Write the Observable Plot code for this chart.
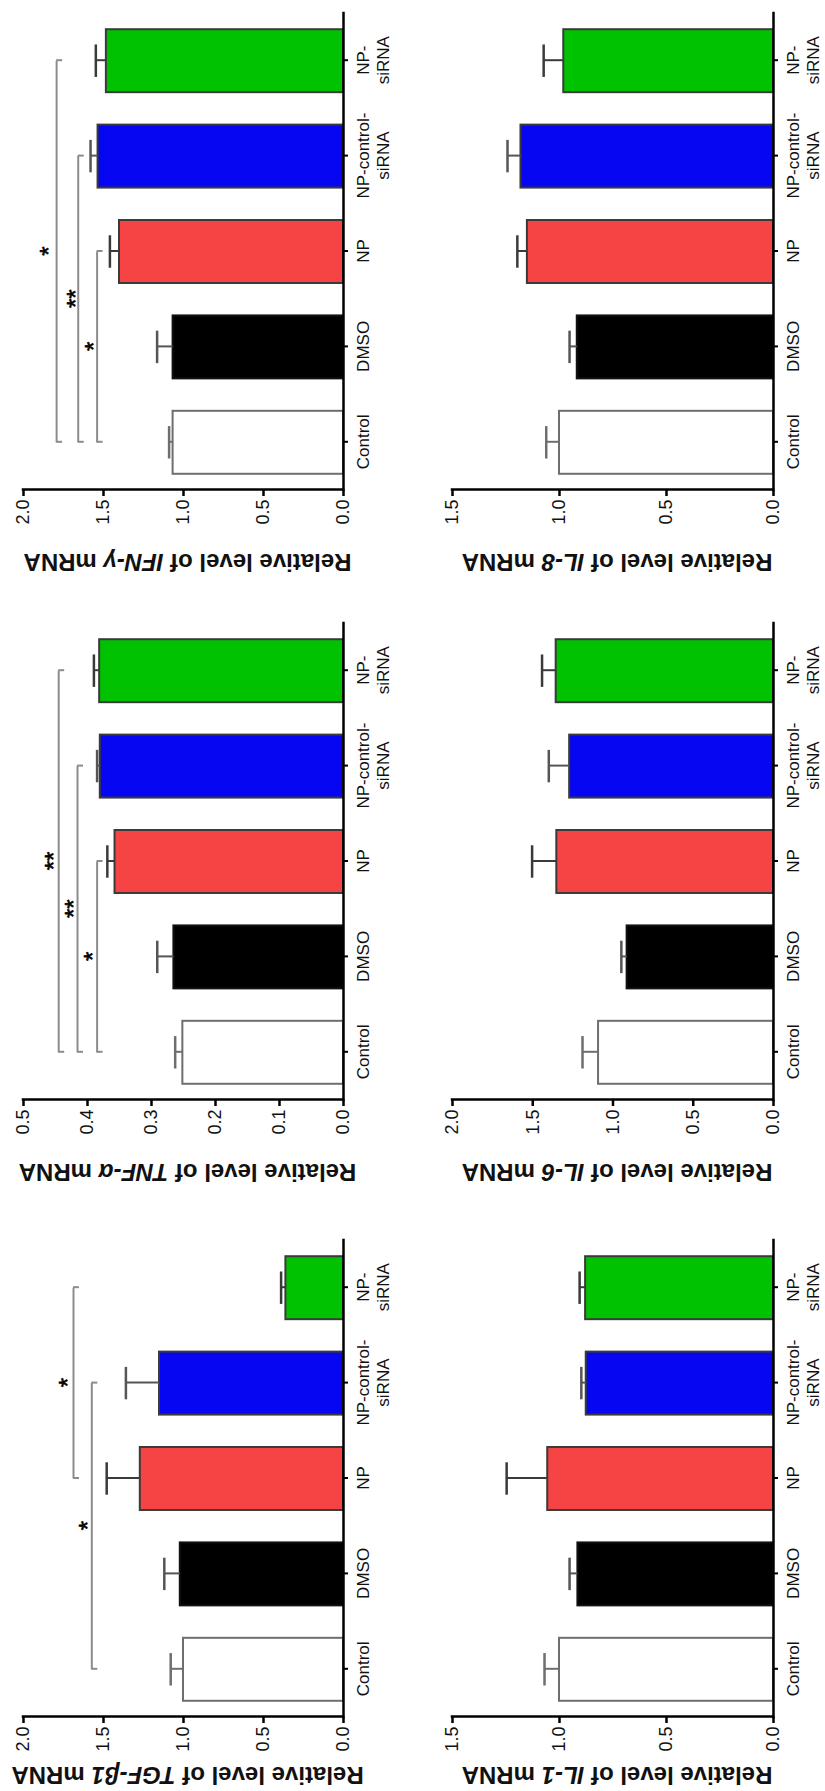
<!DOCTYPE html>
<html>
<head>
<meta charset="utf-8">
<script src="https://cdn.jsdelivr.net/npm/d3@7"></script>
<script src="https://cdn.jsdelivr.net/npm/@observablehq/plot@0.6"></script>
<style>
html, body { margin: 0; padding: 0; background: #fff; }
#page { position: relative; width: 825px; height: 1791px; overflow: hidden; background: #fff; }
#fig { position: absolute; left: 0; top: 0; width: 1791px; height: 825px;
       transform-origin: 0 0; transform: translate(0px, 1791px) rotate(-90deg); }
#fig svg { position: absolute; overflow: visible; }
</style>
</head>
<body>
<div id="page"><div id="fig"></div></div>
<script>
// ---------- data ----------
const categories = ["Control", "DMSO", "NP", "NP-control-siRNA", "NP-siRNA"];
const categoryLabels = ["Control", "DMSO", "NP", "NP-control-\nsiRNA", "NP-\nsiRNA"];
const barFills   = ["#ffffff", "#000000", "#f64444", "#0606f2", "#00c200"];
const barStrokes = ["#6e6e6e", "#111111", "#3a3a3a", "#3a3a3a", "#3a3a3a"];
const errStrokes = ["#6e6e6e", "#555555", "#3a3a3a", "#555555", "#3a3a3a"];

const tgfMean  = [1.00, 1.02, 1.27, 1.15, 0.36];
const tgfErr   = [0.08, 0.10, 0.21, 0.21, 0.03];
const tnfMean  = [0.251, 0.265, 0.357, 0.380, 0.381];
const tnfErr   = [0.012, 0.026, 0.012, 0.005, 0.009];
const ifnMean  = [1.065, 1.065, 1.40, 1.534, 1.482];
const ifnErr   = [0.025, 0.10, 0.06, 0.047, 0.066];
const il1Mean  = [1.00, 0.914, 1.055, 0.875, 0.878];
const il1Err   = [0.07, 0.039, 0.192, 0.023, 0.028];
const il6Mean  = [1.09, 0.912, 1.35, 1.27, 1.354];
const il6Err   = [0.10, 0.036, 0.154, 0.13, 0.088];
const il8Mean  = [1.00, 0.917, 1.15, 1.18, 0.98];
const il8Err   = [0.062, 0.036, 0.047, 0.063, 0.094];

const ticks20 = [0, 0.5, 1.0, 1.5, 2.0];
const ticks05 = [0, 0.1, 0.2, 0.3, 0.4, 0.5];
const ticks15 = [0, 0.5, 1.0, 1.5];

// significance brackets: from/to category index, bracket level, label, label level
const tgfBrackets = [
  {from: 0, to: 3, level: 1.573, label: "*",  labelLevel: 1.635},
  {from: 2, to: 4, level: 1.6875, label: "*", labelLevel: 1.76}
];
const tnfBrackets = [
  {from: 0, to: 2, level: 0.385,  label: "*",  labelLevel: 0.401},
  {from: 0, to: 3, level: 0.4156, label: "**", labelLevel: 0.430},
  {from: 0, to: 4, level: 0.445,  label: "**", labelLevel: 0.461}
];
const ifnBrackets = [
  {from: 0, to: 2, level: 1.54,  label: "*",  labelLevel: 1.596},
  {from: 0, to: 3, level: 1.658, label: "**", labelLevel: 1.71},
  {from: 0, to: 4, level: 1.793, label: "*",  labelLevel: 1.876}
];

const panels = [
  {gene: "TGF-β1", mean: tgfMean, err: tgfErr, max: 2.0, ticks: ticks20, brackets: tgfBrackets, col: 0, row: 0},
  {gene: "TNF-α",  mean: tnfMean, err: tnfErr, max: 0.5, ticks: ticks05, brackets: tnfBrackets, col: 1, row: 0},
  {gene: "IFN-γ",  mean: ifnMean, err: ifnErr, max: 2.0, ticks: ticks20, brackets: ifnBrackets, col: 2, row: 0},
  {gene: "IL-1",   mean: il1Mean, err: il1Err, max: 1.5, ticks: ticks15, brackets: [], col: 0, row: 1},
  {gene: "IL-6",   mean: il6Mean, err: il6Err, max: 2.0, ticks: ticks20, brackets: [], col: 1, row: 1},
  {gene: "IL-8",   mean: il8Mean, err: il8Err, max: 1.5, ticks: ticks15, brackets: [], col: 2, row: 1}
];

// ---------- layout (unrotated figure 1791 x 825, rotated by CSS) ----------
const colLeft = [0, 617, 1227];
const rowTop = [0, 429];
const rowHeight = [405, 394];
const marginLeft = 74, marginRight = 12, marginTop = 23;
const plotW = 477;
const plotH = [320, 321];
const titleDx = [[-68, -82, -82], [-68, -82, -82]];
const font = "'Liberation Sans', Arial, Helvetica, sans-serif";

const fig = document.getElementById("fig");

for (const p of panels) {
  const data = categories.map((c, i) => ({i, c, v: p.mean[i], e: p.err[i]}));
  const H = rowHeight[p.row];
  const ph = plotH[p.row];
  const endTick = 6 * p.max / ph; // bracket end-tick length (6 px) in data units
  const ends = p.brackets.flatMap(b => [{x: b.from, level: b.level}, {x: b.to, level: b.level}]);
  const title = `Relative level of ${p.gene} mRNA`;

  const svg = Plot.plot({
    width: marginLeft + plotW + marginRight,
    height: H,
    marginLeft, marginRight, marginTop,
    marginBottom: H - marginTop - ph,
    x: {domain: [-0.5, 4.5], axis: null},
    y: {domain: [0, p.max], axis: null},
    color: {type: "identity"},
    style: {fontFamily: font, background: "transparent", overflow: "visible", color: "#000"},
    marks: [
      // bars
      Plot.rect(data, {
        x1: d => d.i - 0.33, x2: d => d.i + 0.33, y1: 0, y2: "v",
        fill: d => barFills[d.i], stroke: d => barStrokes[d.i], strokeWidth: 2
      }),
      // error bars (upper only)
      Plot.ruleX(data, {x: "i", y1: "v", y2: d => d.v + d.e, stroke: d => errStrokes[d.i], strokeWidth: 2}),
      Plot.ruleY(data, {y: d => d.v + d.e, x1: d => d.i - 0.17, x2: d => d.i + 0.17,
                        stroke: d => errStrokes[d.i], strokeWidth: 2.5}),
      // significance brackets
      Plot.ruleY(p.brackets, {y: "level", x1: "from", x2: "to", stroke: "#8c8c8c", strokeWidth: 2}),
      Plot.ruleX(ends, {x: "x", y1: "level", y2: d => d.level - endTick, stroke: "#8c8c8c", strokeWidth: 2}),
      Plot.text(p.brackets, {x: d => (d.from + d.to) / 2, y: "labelLevel", text: "label",
                             fontSize: 24, lineAnchor: "middle", dy: 6, fill: "#000", stroke: "#000", strokeWidth: 0.6}),
      // axes
      Plot.ruleY([0], {stroke: "#000", strokeWidth: 2.5, strokeLinecap: "square"}),
      Plot.ruleX([-0.5], {y1: 0, y2: p.max, stroke: "#000", strokeWidth: 2.5, strokeLinecap: "square"}),
      Plot.axisY({anchor: "left", ticks: p.ticks, tickFormat: d3.format(".1f"), tickSize: 6, tickPadding: 4,
                  fontSize: 18, strokeWidth: 2.5, label: null, fill: "#111"}),
      Plot.axisX({anchor: "bottom", ticks: [0, 1, 2, 3, 4], tickFormat: i => categoryLabels[i],
                  tickSize: 5, tickPadding: 6, fontSize: 17, lineHeight: 1.2, strokeWidth: 2,
                  label: null, fill: "#111"}),
      // axis title
      Plot.text([title], {frameAnchor: "left", rotate: -90, textAnchor: "middle", lineAnchor: "top",
                          fontSize: 24, fontWeight: "bold", dx: titleDx[p.row][p.col], dy: 4, fill: "#111"})
    ]
  });

  // italicise the gene name inside the axis title
  svg.querySelectorAll("text").forEach(t => {
    if (t.textContent === title) {
      t.textContent = "";
      const parts = [["Relative level of ", null], [p.gene, "italic"], [" mRNA", null]];
      for (const [txt, st] of parts) {
        const ts = document.createElementNS("http://www.w3.org/2000/svg", "tspan");
        ts.textContent = txt;
        if (st) ts.setAttribute("font-style", st);
        t.appendChild(ts);
      }
    }
  });

  svg.style.left = colLeft[p.col] + "px";
  svg.style.top = rowTop[p.row] + "px";
  fig.appendChild(svg);
}
</script>
</body>
</html>
